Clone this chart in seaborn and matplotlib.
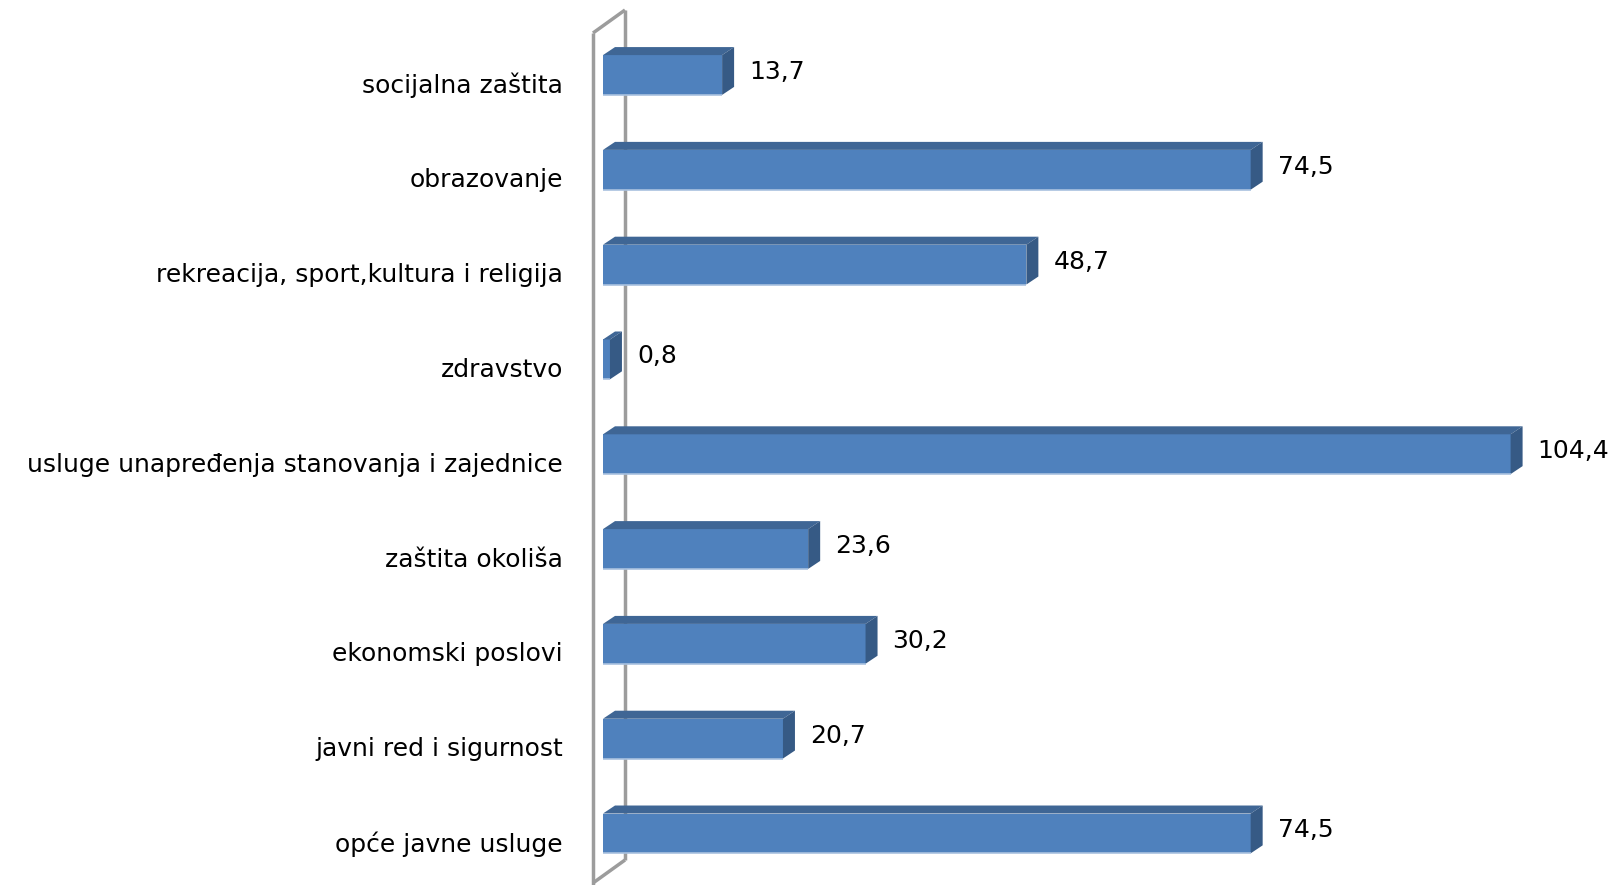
import matplotlib
matplotlib.use("Agg")
import matplotlib.pyplot as plt
import seaborn as sns
import pandas as pd
from matplotlib.patches import Polygon
from matplotlib.transforms import ScaledTranslation

categories = [
    "socijalna zaštita",
    "obrazovanje",
    "rekreacija, sport,kultura i religija",
    "zdravstvo",
    "usluge unapređenja stanovanja i zajednice",
    "zaštita okoliša",
    "ekonomski poslovi",
    "javni red i sigurnost",
    "opće javne usluge",
]
values = [13.7, 74.5, 48.7, 0.8, 104.4, 23.6, 30.2, 20.7, 74.5]
value_labels = ["13,7", "74,5", "48,7", "0,8", "104,4", "23,6", "30,2", "20,7", "74,5"]

df = pd.DataFrame({"category": categories, "value": values})

sns.set_theme(style="white")
plt.rcParams["font.family"] = ["DejaVu Sans"]

W, H = 1621, 885
fig = plt.figure(figsize=(W / 100, H / 100), dpi=100)
ax_left_px = 603
ax = fig.add_axes([ax_left_px / W, 0, 1 - ax_left_px / W, 1])

FRONT = "#4F81BD"
TOP = "#3F6695"
SIDE = "#365A85"

sns.barplot(data=df, x="value", y="category", orient="h", color=FRONT,
            saturation=1, width=0.42, ax=ax, linewidth=0, zorder=3)

ax.set_xlim(0, 117.1)
ax.set_ylim(8.544, -0.791)

# 3D depth in pixels
DX, DY = 12, 8
fig.canvas.draw()
to_disp = ax.transData
to_data = ax.transData.inverted()

for patch, lab in zip(ax.patches, value_labels):
    x0, y0 = patch.get_x(), patch.get_y()
    w, h = patch.get_width(), patch.get_height()
    (px0, py_a) = to_disp.transform((x0, y0))
    (px1, py_b) = to_disp.transform((x0 + w, y0 + h))
    ptop = max(py_a, py_b)
    pbot = min(py_a, py_b)
    top_poly = [(px0, ptop), (px1, ptop), (px1 + DX, ptop + DY), (px0 + DX, ptop + DY)]
    side_poly = [(px1, ptop), (px1 + DX, ptop + DY), (px1 + DX, pbot + DY), (px1, pbot)]
    for poly, col in ((top_poly, TOP), (side_poly, SIDE)):
        data_pts = to_data.transform(poly)
        ax.add_patch(Polygon(data_pts, closed=True, facecolor=col, edgecolor="none", zorder=3))
    ax.plot([x0, x0 + w], [y0 + h, y0 + h], color="#A9C1DF", lw=1.2, zorder=4,
            solid_capstyle="butt")
    lx, ly = to_data.transform((px1 + DX + 15, (ptop + pbot) / 2 + 3))
    ax.text(lx, ly, lab, ha="left", va="center", fontsize=18, color="black", zorder=5)

ax.set_xlabel("")
ax.set_ylabel("")
ax.set_xticks([])
ax.tick_params(axis="y", length=0, pad=28.8, labelsize=18, labelcolor="black")
shift = ScaledTranslation(0, -8 / 100, fig.dpi_scale_trans)
for t in ax.get_yticklabels():
    t.set_transform(t.get_transform() + shift)
for s in ax.spines.values():
    s.set_visible(False)

# back wall (depth plane), drawn behind the bars, in figure pixel coordinates
wall_col = "#9C9C9C"
wx_front, wx_back = 593, 625
wall = [
    ((wx_front, H - 33), (wx_front, -5)),
    ((wx_back, H - 10), (wx_back, H - 860)),
    ((wx_front, H - 33), (wx_back, H - 10)),
    ((wx_front, H - 883), (wx_back, H - 860)),
]
for (a, b) in wall:
    ax.plot([a[0] / W, b[0] / W], [a[1] / H, b[1] / H],
            transform=fig.transFigure, color=wall_col, lw=2.5, zorder=1,
            clip_on=False, solid_capstyle="butt")

fig.savefig("out.png", dpi=100)
